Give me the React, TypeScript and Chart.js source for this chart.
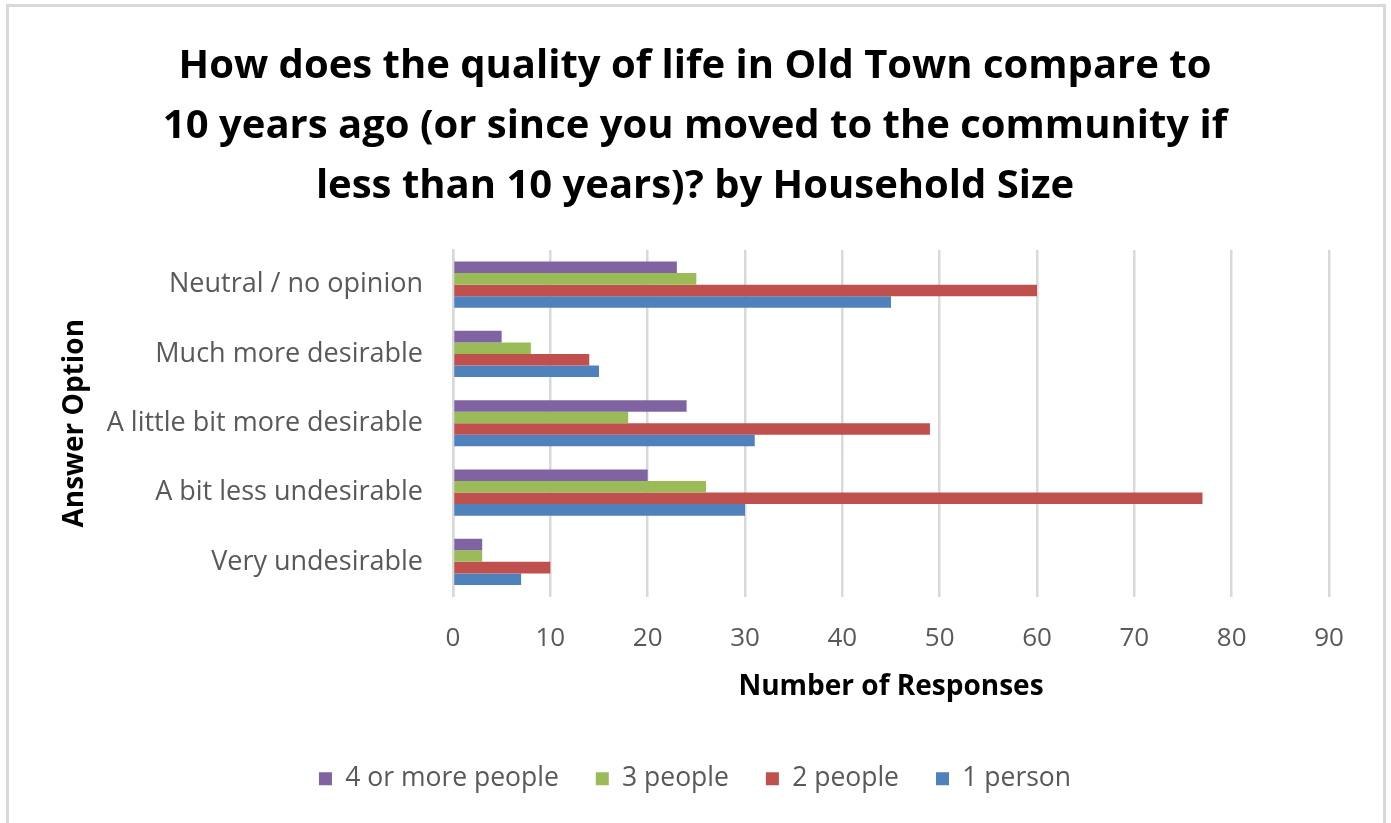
import React, { useEffect, useRef } from "react";
import { Chart, registerables } from "chart.js";

Chart.register(...registerables);

const categories = [
  "Neutral / no opinion",
  "Much more desirable",
  "A little bit more desirable",
  "A bit less undesirable",
  "Very undesirable",
];
const fourOrMore = [23, 5, 24, 20, 3];
const threePeople = [25, 8, 18, 26, 3];
const twoPeople = [60, 14, 49, 77, 10];
const onePerson = [45, 15, 31, 30, 7];
const seriesNames = ["4 or more people", "3 people", "2 people", "1 person"];
const seriesColors = ["#8064a2", "#9bbb59", "#c0504d", "#4f81bd"];
const titleLines = [
  "How does the quality of life in Old Town compare to",
  "10 years ago (or since you moved to the community if",
  "less than 10 years)? by Household Size",
];
const FONT = "'Open Sans', Lato, sans-serif";

export default function App() {
  const ref = useRef<HTMLCanvasElement | null>(null);
  useEffect(() => {
    document.body.style.margin = "0";
    const seriesValues = [fourOrMore, threePeople, twoPeople, onePerson];
    const chart = new Chart(ref.current as HTMLCanvasElement, {
      type: "bar",
      data: {
        labels: categories,
        datasets: seriesNames.map((name, i) => ({
          label: name,
          data: seriesValues[i],
          backgroundColor: seriesColors[i],
          borderWidth: 0,
          categoryPercentage: 0.667,
          barPercentage: 1,
        })),
      },
      options: {
        indexAxis: "y",
        animation: false,
        responsive: false,
        maintainAspectRatio: false,
        layout: { padding: { top: 0, left: 61, right: 62, bottom: 21 } },
        scales: {
          x: {
            min: 0,
            max: 90,
            ticks: {
              stepSize: 10,
              color: "#595959",
              font: { family: FONT, size: 26 },
              padding: 26,
            },
            grid: { color: "#d9d9d9", lineWidth: 2.5, drawTicks: false },
            border: { display: false },
            title: {
              display: true,
              text: "Number of Responses",
              color: "#000",
              font: { family: FONT, size: 28, weight: "bold" },
              padding: { top: 16, bottom: 25 },
            },
            afterFit: (s: any) => {
              s.height = 132;
            },
          },
          y: {
            ticks: {
              color: "#595959",
              font: { family: FONT, size: 27 },
              padding: 30,
            },
            grid: { display: false, drawTicks: false },
            border: { display: true, color: "#d9d9d9", width: 2.5 },
            title: {
              display: true,
              text: "Answer Option",
              color: "#000",
              font: { family: FONT, size: 28, weight: "bold", lineHeight: 1 },
              padding: { top: 0, bottom: 0 },
            },
            afterFit: (s: any) => {
              s.width = 392;
            },
          },
        },
        plugins: {
          title: {
            display: true,
            text: titleLines,
            color: "#000",
            font: { family: FONT, size: 40, weight: "bold", lineHeight: 1.5 },
            padding: { top: 37, bottom: 33 },
          },
          legend: {
            position: "bottom",
            labels: {
              color: "#595959",
              font: { family: FONT, size: 26.5 },
              boxWidth: 13,
              boxHeight: 13,
              padding: 37,
            },
          },
          tooltip: { enabled: false },
        },
      },
    });
    return () => chart.destroy();
  }, []);
  return (
    <div style={{ position: "relative", width: 1391, height: 823, background: "#fff" }}>
      <canvas ref={ref} width={1391} height={823} style={{ display: "block" }} />
      <div
        style={{
          position: "absolute",
          left: 6,
          top: 4,
          width: 1374,
          height: 830,
          border: "3px solid #d9d9d9",
          pointerEvents: "none",
        }}
      />
    </div>
  );
}
